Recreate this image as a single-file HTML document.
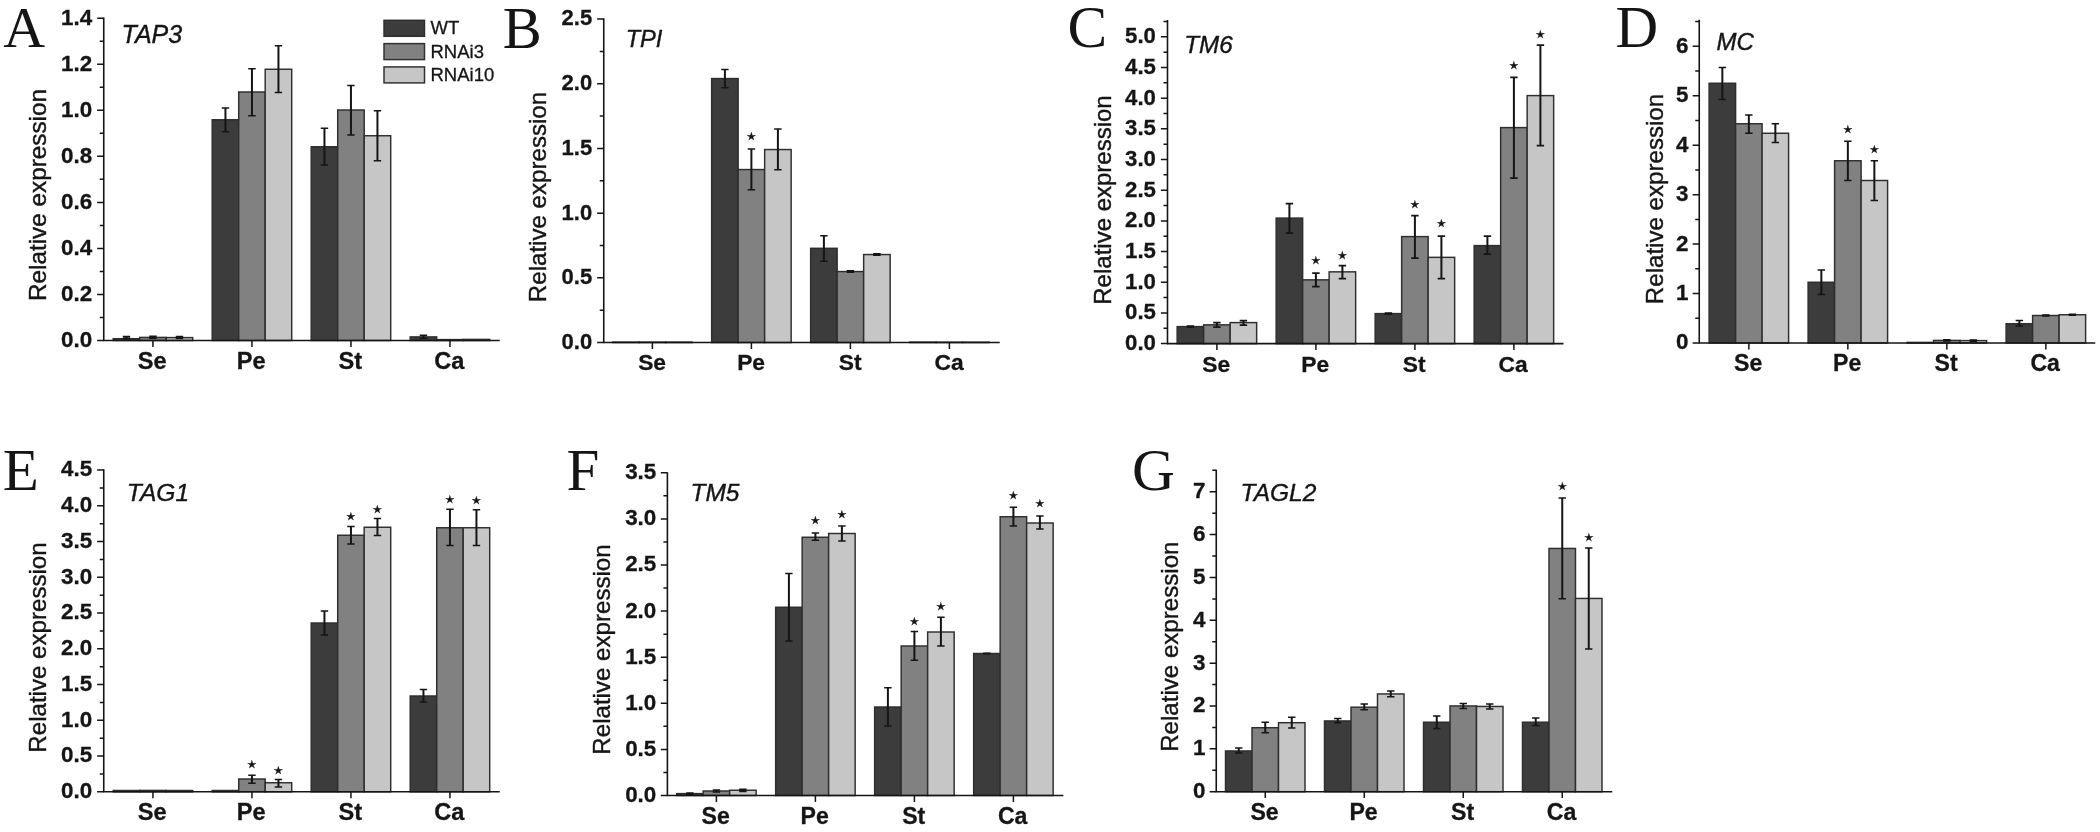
<!DOCTYPE html>
<html lang="en">
<head>
<meta charset="utf-8">
<title>Relative expression of MADS-box genes in WT, RNAi3 and RNAi10 floral organs</title>
<style>
html,body{margin:0;padding:0;background:#fff;}
body{width:2100px;height:832px;overflow:hidden;}
svg{display:block;filter:blur(0.3px);}
text{font-family:"Liberation Sans",sans-serif;fill:#151515;}
.bar{stroke:#2e2e2e;stroke-width:1.45;}
.err{stroke:#151515;stroke-width:2;fill:none;}
.cap{stroke:#151515;stroke-width:1.6;fill:none;}
.axis{stroke:#151515;stroke-width:1.6;fill:none;stroke-linejoin:miter;}
.tick{stroke:#151515;stroke-width:1.5;fill:none;}
.tl{font-weight:bold;text-anchor:end;stroke:#151515;stroke-width:0.3px;}
.cat{font-weight:bold;text-anchor:middle;stroke:#151515;stroke-width:0.3px;}
.yt{text-anchor:middle;stroke:#151515;stroke-width:0.4px;}
.gene{font-style:italic;stroke:#151515;stroke-width:0.4px;}
.pl{font-family:"Liberation Serif",serif;}
.lg{font-size:18.5px;stroke:#151515;stroke-width:0.3px;}
.star{font-family:"DejaVu Sans",sans-serif;font-size:10.8px;text-anchor:middle;stroke:#151515;stroke-width:0.3px;}
</style>
</head>
<body>
<svg width="2100" height="832" viewBox="0 0 2100 832">
<rect width="2100" height="832" fill="#ffffff"/>
<g class="panel">
<rect class="bar" x="113.2" y="338.7" width="26.5" height="1.8" fill="#3c3c3c"/>
<rect class="bar" x="139.7" y="337.4" width="26.5" height="3.1" fill="#818181"/>
<rect class="bar" x="166.2" y="337.6" width="26.5" height="2.9" fill="#c6c6c6"/>
<path class="err" d="M126.45 336.6V338.6"/>
<path class="cap" d="M122.75 336.6h7.4M122.75 338.6h7.4"/>
<path class="err" d="M152.95 336.4V338.2"/>
<path class="cap" d="M149.25 336.4h7.4M149.25 338.2h7.4"/>
<path class="err" d="M179.45 336.6V338.4"/>
<path class="cap" d="M175.75 336.6h7.4M175.75 338.4h7.4"/>
<rect class="bar" x="212.2" y="119.75" width="26.5" height="220.75" fill="#3c3c3c"/>
<rect class="bar" x="238.7" y="92" width="26.5" height="248.5" fill="#818181"/>
<rect class="bar" x="265.2" y="69.25" width="26.5" height="271.25" fill="#c6c6c6"/>
<path class="err" d="M225.45 108V131.75"/>
<path class="cap" d="M221.75 108h7.4M221.75 131.75h7.4"/>
<path class="err" d="M251.95 68.75V115.75"/>
<path class="cap" d="M248.25 68.75h7.4M248.25 115.75h7.4"/>
<path class="err" d="M278.45 45.75V92.5"/>
<path class="cap" d="M274.75 45.75h7.4M274.75 92.5h7.4"/>
<rect class="bar" x="311.2" y="146.75" width="26.5" height="193.75" fill="#3c3c3c"/>
<rect class="bar" x="337.7" y="110" width="26.5" height="230.5" fill="#818181"/>
<rect class="bar" x="364.2" y="135.75" width="26.5" height="204.75" fill="#c6c6c6"/>
<path class="err" d="M324.45 128.25V165"/>
<path class="cap" d="M320.75 128.25h7.4M320.75 165h7.4"/>
<path class="err" d="M350.95 85.5V135"/>
<path class="cap" d="M347.25 85.5h7.4M347.25 135h7.4"/>
<path class="err" d="M377.45 110.75V160.75"/>
<path class="cap" d="M373.75 110.75h7.4M373.75 160.75h7.4"/>
<rect class="bar" x="410.2" y="336.9" width="26.5" height="3.6" fill="#3c3c3c"/>
<rect class="bar" x="436.7" y="339.6" width="26.5" height="0.9" fill="#818181"/>
<rect class="bar" x="463.2" y="339.4" width="26.5" height="1.1" fill="#c6c6c6"/>
<path class="err" d="M423.45 335.4V338.2"/>
<path class="cap" d="M419.75 335.4h7.4M419.75 338.2h7.4"/>
<path class="axis" d="M103.75 17.45V340.5H499.75"/>
<path class="tick" d="M103.75 340.5h-6.6M103.75 294.46h-6.6M103.75 248.42h-6.6M103.75 202.38h-6.6M103.75 156.34h-6.6M103.75 110.3h-6.6M103.75 64.26h-6.6M103.75 18.22h-6.6M103.75 317.48h-4M103.75 271.44h-4M103.75 225.4h-4M103.75 179.36h-4M103.75 133.32h-4M103.75 87.28h-4M103.75 41.24h-4M152.95 340.5v6.4M251.95 340.5v6.4M350.95 340.5v6.4M449.95 340.5v6.4"/>
<text class="tl" x="92.15" y="346.9" font-size="22.4">0.0</text>
<text class="tl" x="92.15" y="300.86" font-size="22.4">0.2</text>
<text class="tl" x="92.15" y="254.82" font-size="22.4">0.4</text>
<text class="tl" x="92.15" y="208.78" font-size="22.4">0.6</text>
<text class="tl" x="92.15" y="162.74" font-size="22.4">0.8</text>
<text class="tl" x="92.15" y="116.7" font-size="22.4">1.0</text>
<text class="tl" x="92.15" y="70.66" font-size="22.4">1.2</text>
<text class="tl" x="92.15" y="24.62" font-size="22.4">1.4</text>
<text class="cat" x="152.25" y="368.5" font-size="23.6">Se</text>
<text class="cat" x="251.25" y="368.5" font-size="23.6">Pe</text>
<text class="cat" x="350.25" y="368.5" font-size="23.6">St</text>
<text class="cat" x="449.25" y="368.5" font-size="23.6">Ca</text>
<text class="yt" font-size="24.3" transform="translate(46 195) rotate(-90)">Relative expression</text>
<text class="gene" x="121.5" y="42.6" font-size="25">TAP3</text>
<text class="pl" x="3.2" y="47" font-size="58">A</text>
<rect class="bar" x="384" y="20.3" width="40.5" height="16" fill="#3c3c3c"/>
<text class="lg" x="430.5" y="34.2">WT</text>
<rect class="bar" x="384" y="43.6" width="40.5" height="16" fill="#818181"/>
<text class="lg" x="430.5" y="57.5">RNAi3</text>
<rect class="bar" x="384" y="66.9" width="40.5" height="16" fill="#c6c6c6"/>
<text class="lg" x="430.5" y="80.8">RNAi10</text>
</g>
<g class="panel">
<rect class="bar" x="612.65" y="342.1" width="26.5" height="0.45" fill="#3c3c3c"/>
<rect class="bar" x="639.15" y="342.1" width="26.5" height="0.45" fill="#818181"/>
<rect class="bar" x="665.65" y="342.1" width="26.5" height="0.45" fill="#c6c6c6"/>
<rect class="bar" x="711.65" y="78.55" width="26.5" height="264" fill="#3c3c3c"/>
<rect class="bar" x="738.15" y="169.55" width="26.5" height="173" fill="#818181"/>
<rect class="bar" x="764.65" y="149.55" width="26.5" height="193" fill="#c6c6c6"/>
<path class="err" d="M724.9 69.55V87.8"/>
<path class="cap" d="M721.2 69.55h7.4M721.2 87.8h7.4"/>
<path class="err" d="M751.4 149.05V189.8"/>
<path class="cap" d="M747.7 149.05h7.4M747.7 189.8h7.4"/>
<text class="star" x="751.4" y="140.3">★</text>
<path class="err" d="M777.9 129.05V169.8"/>
<path class="cap" d="M774.2 129.05h7.4M774.2 169.8h7.4"/>
<rect class="bar" x="810.65" y="248.3" width="26.5" height="94.25" fill="#3c3c3c"/>
<rect class="bar" x="837.15" y="271.55" width="26.5" height="71" fill="#818181"/>
<rect class="bar" x="863.65" y="254.55" width="26.5" height="88" fill="#c6c6c6"/>
<path class="err" d="M823.9 235.8V261.3"/>
<path class="cap" d="M820.2 235.8h7.4M820.2 261.3h7.4"/>
<path class="err" d="M850.4 270.9V272.2"/>
<path class="cap" d="M846.7 270.9h7.4M846.7 272.2h7.4"/>
<path class="err" d="M876.9 253.9V255.2"/>
<path class="cap" d="M873.2 253.9h7.4M873.2 255.2h7.4"/>
<rect class="bar" x="909.65" y="342.1" width="26.5" height="0.45" fill="#3c3c3c"/>
<rect class="bar" x="936.15" y="342.2" width="26.5" height="0.35" fill="#818181"/>
<rect class="bar" x="962.65" y="342.2" width="26.5" height="0.35" fill="#c6c6c6"/>
<path class="axis" d="M603.75 18.3V342.55H999.75"/>
<path class="tick" d="M603.75 342.55h-6.6M603.75 277.85h-6.6M603.75 213.15h-6.6M603.75 148.45h-6.6M603.75 83.75h-6.6M603.75 19.05h-6.6M603.75 310.2h-4M603.75 245.5h-4M603.75 180.8h-4M603.75 116.1h-4M603.75 51.4h-4M652.4 342.55v6.4M751.4 342.55v6.4M850.4 342.55v6.4M949.4 342.55v6.4"/>
<text class="tl" x="592.15" y="348.95" font-size="22">0.0</text>
<text class="tl" x="592.15" y="284.25" font-size="22">0.5</text>
<text class="tl" x="592.15" y="219.55" font-size="22">1.0</text>
<text class="tl" x="592.15" y="154.85" font-size="22">1.5</text>
<text class="tl" x="592.15" y="90.15" font-size="22">2.0</text>
<text class="tl" x="592.15" y="25.45" font-size="22">2.5</text>
<text class="cat" x="652.1" y="370" font-size="22.8">Se</text>
<text class="cat" x="751.1" y="370" font-size="22.8">Pe</text>
<text class="cat" x="850.1" y="370" font-size="22.8">St</text>
<text class="cat" x="949.1" y="370" font-size="22.8">Ca</text>
<text class="yt" font-size="24.1" transform="translate(546 197) rotate(-90)">Relative expression</text>
<text class="gene" x="625.7" y="46.5" font-size="23.6">TPI</text>
<text class="pl" x="502.7" y="47.5" font-size="58.5">B</text>
</g>
<g class="panel">
<rect class="bar" x="1177.15" y="326.6" width="26.5" height="17" fill="#3c3c3c"/>
<rect class="bar" x="1203.65" y="324.85" width="26.5" height="18.75" fill="#818181"/>
<rect class="bar" x="1230.15" y="322.6" width="26.5" height="21" fill="#c6c6c6"/>
<path class="err" d="M1190.4 326.1V327.1"/>
<path class="cap" d="M1186.7 326.1h7.4M1186.7 327.1h7.4"/>
<path class="err" d="M1216.9 322.6V327.1"/>
<path class="cap" d="M1213.2 322.6h7.4M1213.2 327.1h7.4"/>
<path class="err" d="M1243.4 320.6V325.1"/>
<path class="cap" d="M1239.7 320.6h7.4M1239.7 325.1h7.4"/>
<rect class="bar" x="1276.15" y="218.1" width="26.5" height="125.5" fill="#3c3c3c"/>
<rect class="bar" x="1302.65" y="279.85" width="26.5" height="63.75" fill="#818181"/>
<rect class="bar" x="1329.15" y="271.85" width="26.5" height="71.75" fill="#c6c6c6"/>
<path class="err" d="M1289.4 203.6V233.1"/>
<path class="cap" d="M1285.7 203.6h7.4M1285.7 233.1h7.4"/>
<path class="err" d="M1315.9 273.1V286.6"/>
<path class="cap" d="M1312.2 273.1h7.4M1312.2 286.6h7.4"/>
<text class="star" x="1315.9" y="264.1">★</text>
<path class="err" d="M1342.4 265.6V278.6"/>
<path class="cap" d="M1338.7 265.6h7.4M1338.7 278.6h7.4"/>
<text class="star" x="1342.4" y="259.1">★</text>
<rect class="bar" x="1375.15" y="313.6" width="26.5" height="30" fill="#3c3c3c"/>
<rect class="bar" x="1401.65" y="236.6" width="26.5" height="107" fill="#818181"/>
<rect class="bar" x="1428.15" y="257.35" width="26.5" height="86.25" fill="#c6c6c6"/>
<path class="err" d="M1388.4 313.1V314.1"/>
<path class="cap" d="M1384.7 313.1h7.4M1384.7 314.1h7.4"/>
<path class="err" d="M1414.9 215.6V258.1"/>
<path class="cap" d="M1411.2 215.6h7.4M1411.2 258.1h7.4"/>
<text class="star" x="1414.9" y="208.1">★</text>
<path class="err" d="M1441.4 236.1V278.6"/>
<path class="cap" d="M1437.7 236.1h7.4M1437.7 278.6h7.4"/>
<text class="star" x="1441.4" y="226.6">★</text>
<rect class="bar" x="1474.15" y="245.6" width="26.5" height="98" fill="#3c3c3c"/>
<rect class="bar" x="1500.65" y="127.6" width="26.5" height="216" fill="#818181"/>
<rect class="bar" x="1527.15" y="95.6" width="26.5" height="248" fill="#c6c6c6"/>
<path class="err" d="M1487.4 236.1V254.1"/>
<path class="cap" d="M1483.7 236.1h7.4M1483.7 254.1h7.4"/>
<path class="err" d="M1513.9 77.35V178.1"/>
<path class="cap" d="M1510.2 77.35h7.4M1510.2 178.1h7.4"/>
<text class="star" x="1513.9" y="69.1">★</text>
<path class="err" d="M1540.4 45.1V145.6"/>
<path class="cap" d="M1536.7 45.1h7.4M1536.7 145.6h7.4"/>
<text class="star" x="1540.4" y="38.1">★</text>
<path class="axis" d="M1167.5 19.95V343.6H1563.5"/>
<path class="tick" d="M1167.5 343.6h-6.6M1167.5 312.92h-6.6M1167.5 282.24h-6.6M1167.5 251.56h-6.6M1167.5 220.88h-6.6M1167.5 190.2h-6.6M1167.5 159.52h-6.6M1167.5 128.84h-6.6M1167.5 98.16h-6.6M1167.5 67.48h-6.6M1167.5 36.8h-6.6M1167.5 328.26h-4M1167.5 297.58h-4M1167.5 266.9h-4M1167.5 236.22h-4M1167.5 205.54h-4M1167.5 174.86h-4M1167.5 144.18h-4M1167.5 113.5h-4M1167.5 82.82h-4M1167.5 52.14h-4M1167.5 21.46h-4M1216.9 343.6v6.4M1315.9 343.6v6.4M1414.9 343.6v6.4M1513.9 343.6v6.4"/>
<text class="tl" x="1155.9" y="350" font-size="22.2">0.0</text>
<text class="tl" x="1155.9" y="319.32" font-size="22.2">0.5</text>
<text class="tl" x="1155.9" y="288.64" font-size="22.2">1.0</text>
<text class="tl" x="1155.9" y="257.96" font-size="22.2">1.5</text>
<text class="tl" x="1155.9" y="227.28" font-size="22.2">2.0</text>
<text class="tl" x="1155.9" y="196.6" font-size="22.2">2.5</text>
<text class="tl" x="1155.9" y="165.92" font-size="22.2">3.0</text>
<text class="tl" x="1155.9" y="135.24" font-size="22.2">3.5</text>
<text class="tl" x="1155.9" y="104.56" font-size="22.2">4.0</text>
<text class="tl" x="1155.9" y="73.88" font-size="22.2">4.5</text>
<text class="tl" x="1155.9" y="43.2" font-size="22.2">5.0</text>
<text class="cat" x="1216.2" y="371.5" font-size="22.8">Se</text>
<text class="cat" x="1315.2" y="371.5" font-size="22.8">Pe</text>
<text class="cat" x="1414.2" y="371.5" font-size="22.8">St</text>
<text class="cat" x="1513.2" y="371.5" font-size="22.8">Ca</text>
<text class="yt" font-size="24" transform="translate(1110.5 200) rotate(-90)">Relative expression</text>
<text class="gene" x="1184.3" y="53" font-size="24.2">TM6</text>
<text class="pl" x="1067.5" y="47" font-size="59.5">C</text>
</g>
<g class="panel">
<rect class="bar" x="1709.1" y="83.25" width="26.5" height="259.75" fill="#3c3c3c"/>
<rect class="bar" x="1735.6" y="123.75" width="26.5" height="219.25" fill="#818181"/>
<rect class="bar" x="1762.1" y="133.25" width="26.5" height="209.75" fill="#c6c6c6"/>
<path class="err" d="M1722.35 67.5V99.5"/>
<path class="cap" d="M1718.65 67.5h7.4M1718.65 99.5h7.4"/>
<path class="err" d="M1748.85 115V133.25"/>
<path class="cap" d="M1745.15 115h7.4M1745.15 133.25h7.4"/>
<path class="err" d="M1775.35 123.75V142.5"/>
<path class="cap" d="M1771.65 123.75h7.4M1771.65 142.5h7.4"/>
<rect class="bar" x="1808.1" y="282.25" width="26.5" height="60.75" fill="#3c3c3c"/>
<rect class="bar" x="1834.6" y="160.75" width="26.5" height="182.25" fill="#818181"/>
<rect class="bar" x="1861.1" y="180.5" width="26.5" height="162.5" fill="#c6c6c6"/>
<path class="err" d="M1821.35 270V294.5"/>
<path class="cap" d="M1817.65 270h7.4M1817.65 294.5h7.4"/>
<path class="err" d="M1847.85 141.25V180.5"/>
<path class="cap" d="M1844.15 141.25h7.4M1844.15 180.5h7.4"/>
<text class="star" x="1847.85" y="132.5">★</text>
<path class="err" d="M1874.35 160.75V200.5"/>
<path class="cap" d="M1870.65 160.75h7.4M1870.65 200.5h7.4"/>
<text class="star" x="1874.35" y="152.5">★</text>
<rect class="bar" x="1907.1" y="342.4" width="26.5" height="0.6" fill="#3c3c3c"/>
<rect class="bar" x="1933.6" y="340.4" width="26.5" height="2.6" fill="#818181"/>
<rect class="bar" x="1960.1" y="340.6" width="26.5" height="2.4" fill="#c6c6c6"/>
<path class="err" d="M1946.85 339.9V340.9"/>
<path class="cap" d="M1943.15 339.9h7.4M1943.15 340.9h7.4"/>
<path class="err" d="M1973.35 340.1V341.1"/>
<path class="cap" d="M1969.65 340.1h7.4M1969.65 341.1h7.4"/>
<rect class="bar" x="2006.1" y="323.75" width="26.5" height="19.25" fill="#3c3c3c"/>
<rect class="bar" x="2032.6" y="315.5" width="26.5" height="27.5" fill="#818181"/>
<rect class="bar" x="2059.1" y="314.75" width="26.5" height="28.25" fill="#c6c6c6"/>
<path class="err" d="M2019.35 320.5V326"/>
<path class="cap" d="M2015.65 320.5h7.4M2015.65 326h7.4"/>
<path class="err" d="M2045.85 315V316"/>
<path class="cap" d="M2042.15 315h7.4M2042.15 316h7.4"/>
<path class="err" d="M2072.35 314.25V315.25"/>
<path class="cap" d="M2068.65 314.25h7.4M2068.65 315.25h7.4"/>
<path class="axis" d="M1699.25 19.75V343H2095.25"/>
<path class="tick" d="M1699.25 343h-6.6M1699.25 293.55h-6.6M1699.25 244.1h-6.6M1699.25 194.65h-6.6M1699.25 145.2h-6.6M1699.25 95.75h-6.6M1699.25 46.3h-6.6M1699.25 318.27h-4M1699.25 268.82h-4M1699.25 219.38h-4M1699.25 169.92h-4M1699.25 120.47h-4M1699.25 71.02h-4M1699.25 21.57h-4M1748.85 343v6.4M1847.85 343v6.4M1946.85 343v6.4M2045.85 343v6.4"/>
<text class="tl" x="1688.45" y="349.4" font-size="22.4">0</text>
<text class="tl" x="1688.45" y="299.95" font-size="22.4">1</text>
<text class="tl" x="1688.45" y="250.5" font-size="22.4">2</text>
<text class="tl" x="1688.45" y="201.05" font-size="22.4">3</text>
<text class="tl" x="1688.45" y="151.6" font-size="22.4">4</text>
<text class="tl" x="1688.45" y="102.15" font-size="22.4">5</text>
<text class="tl" x="1688.45" y="52.7" font-size="22.4">6</text>
<text class="cat" x="1748.15" y="371" font-size="23.1">Se</text>
<text class="cat" x="1847.15" y="371" font-size="23.1">Pe</text>
<text class="cat" x="1946.15" y="371" font-size="23.1">St</text>
<text class="cat" x="2045.15" y="371" font-size="23.1">Ca</text>
<text class="yt" font-size="24.1" transform="translate(1662.5 199) rotate(-90)">Relative expression</text>
<text class="gene" x="1716.5" y="50" font-size="24">MC</text>
<text class="pl" x="1615.5" y="47.3" font-size="59">D</text>
</g>
<g class="panel">
<rect class="bar" x="113.2" y="790.5" width="26.5" height="1.3" fill="#3c3c3c"/>
<rect class="bar" x="139.7" y="790.4" width="26.5" height="1.4" fill="#818181"/>
<rect class="bar" x="166.2" y="790.5" width="26.5" height="1.3" fill="#c6c6c6"/>
<rect class="bar" x="212.2" y="790.5" width="26.5" height="1.3" fill="#3c3c3c"/>
<rect class="bar" x="238.7" y="779" width="26.5" height="12.8" fill="#818181"/>
<rect class="bar" x="265.2" y="782.75" width="26.5" height="9.05" fill="#c6c6c6"/>
<path class="err" d="M251.95 775.25V783.25"/>
<path class="cap" d="M248.25 775.25h7.4M248.25 783.25h7.4"/>
<text class="star" x="251.95" y="768.25">★</text>
<path class="err" d="M278.45 779.5V787"/>
<path class="cap" d="M274.75 779.5h7.4M274.75 787h7.4"/>
<text class="star" x="278.45" y="774">★</text>
<rect class="bar" x="311.2" y="623" width="26.5" height="168.8" fill="#3c3c3c"/>
<rect class="bar" x="337.7" y="535.25" width="26.5" height="256.55" fill="#818181"/>
<rect class="bar" x="364.2" y="527.25" width="26.5" height="264.55" fill="#c6c6c6"/>
<path class="err" d="M324.45 611V635"/>
<path class="cap" d="M320.75 611h7.4M320.75 635h7.4"/>
<path class="err" d="M350.95 526.5V544"/>
<path class="cap" d="M347.25 526.5h7.4M347.25 544h7.4"/>
<text class="star" x="350.95" y="520.25">★</text>
<path class="err" d="M377.45 518.5V535.5"/>
<path class="cap" d="M373.75 518.5h7.4M373.75 535.5h7.4"/>
<text class="star" x="377.45" y="512.75">★</text>
<rect class="bar" x="410.2" y="696" width="26.5" height="95.8" fill="#3c3c3c"/>
<rect class="bar" x="436.7" y="527.75" width="26.5" height="264.05" fill="#818181"/>
<rect class="bar" x="463.2" y="527.75" width="26.5" height="264.05" fill="#c6c6c6"/>
<path class="err" d="M423.45 689.5V702"/>
<path class="cap" d="M419.75 689.5h7.4M419.75 702h7.4"/>
<path class="err" d="M449.95 509.25V545.5"/>
<path class="cap" d="M446.25 509.25h7.4M446.25 545.5h7.4"/>
<text class="star" x="449.95" y="502.75">★</text>
<path class="err" d="M476.45 509.75V545.5"/>
<path class="cap" d="M472.75 509.75h7.4M472.75 545.5h7.4"/>
<text class="star" x="476.45" y="504">★</text>
<path class="axis" d="M103.75 469.25V791.8H499.75"/>
<path class="tick" d="M103.75 791.8h-6.6M103.75 756.05h-6.6M103.75 720.3h-6.6M103.75 684.55h-6.6M103.75 648.8h-6.6M103.75 613.05h-6.6M103.75 577.3h-6.6M103.75 541.55h-6.6M103.75 505.8h-6.6M103.75 470.05h-6.6M103.75 773.92h-4M103.75 738.17h-4M103.75 702.42h-4M103.75 666.67h-4M103.75 630.92h-4M103.75 595.17h-4M103.75 559.42h-4M103.75 523.67h-4M103.75 487.92h-4M152.95 791.8v6.4M251.95 791.8v6.4M350.95 791.8v6.4M449.95 791.8v6.4"/>
<text class="tl" x="92.15" y="798.2" font-size="22.4">0.0</text>
<text class="tl" x="92.15" y="762.45" font-size="22.4">0.5</text>
<text class="tl" x="92.15" y="726.7" font-size="22.4">1.0</text>
<text class="tl" x="92.15" y="690.95" font-size="22.4">1.5</text>
<text class="tl" x="92.15" y="655.2" font-size="22.4">2.0</text>
<text class="tl" x="92.15" y="619.45" font-size="22.4">2.5</text>
<text class="tl" x="92.15" y="583.7" font-size="22.4">3.0</text>
<text class="tl" x="92.15" y="547.95" font-size="22.4">3.5</text>
<text class="tl" x="92.15" y="512.2" font-size="22.4">4.0</text>
<text class="tl" x="92.15" y="476.45" font-size="22.4">4.5</text>
<text class="cat" x="152.25" y="819.5" font-size="23.6">Se</text>
<text class="cat" x="251.25" y="819.5" font-size="23.6">Pe</text>
<text class="cat" x="350.25" y="819.5" font-size="23.6">St</text>
<text class="cat" x="449.25" y="819.5" font-size="23.6">Ca</text>
<text class="yt" font-size="24.1" transform="translate(46 647.5) rotate(-90)">Relative expression</text>
<text class="gene" x="126.75" y="501" font-size="24.6">TAG1</text>
<text class="pl" x="2.7" y="490" font-size="59">E</text>
</g>
<g class="panel">
<rect class="bar" x="676.65" y="793.6" width="26.5" height="1.9" fill="#3c3c3c"/>
<rect class="bar" x="703.15" y="791" width="26.5" height="4.5" fill="#818181"/>
<rect class="bar" x="729.65" y="790.25" width="26.5" height="5.25" fill="#c6c6c6"/>
<path class="err" d="M689.9 793.1V794.1"/>
<path class="cap" d="M686.2 793.1h7.4M686.2 794.1h7.4"/>
<path class="err" d="M716.4 790V792"/>
<path class="cap" d="M712.7 790h7.4M712.7 792h7.4"/>
<path class="err" d="M742.9 789.4V791.4"/>
<path class="cap" d="M739.2 789.4h7.4M739.2 791.4h7.4"/>
<rect class="bar" x="775.65" y="607.25" width="26.5" height="188.25" fill="#3c3c3c"/>
<rect class="bar" x="802.15" y="537.25" width="26.5" height="258.25" fill="#818181"/>
<rect class="bar" x="828.65" y="533.5" width="26.5" height="262" fill="#c6c6c6"/>
<path class="err" d="M788.9 573.5V641"/>
<path class="cap" d="M785.2 573.5h7.4M785.2 641h7.4"/>
<path class="err" d="M815.4 533V540.25"/>
<path class="cap" d="M811.7 533h7.4M811.7 540.25h7.4"/>
<text class="star" x="815.4" y="524">★</text>
<path class="err" d="M841.9 526V541"/>
<path class="cap" d="M838.2 526h7.4M838.2 541h7.4"/>
<text class="star" x="841.9" y="517.75">★</text>
<rect class="bar" x="874.65" y="707" width="26.5" height="88.5" fill="#3c3c3c"/>
<rect class="bar" x="901.15" y="646" width="26.5" height="149.5" fill="#818181"/>
<rect class="bar" x="927.65" y="632" width="26.5" height="163.5" fill="#c6c6c6"/>
<path class="err" d="M887.9 687.75V726"/>
<path class="cap" d="M884.2 687.75h7.4M884.2 726h7.4"/>
<path class="err" d="M914.4 631.5V660.25"/>
<path class="cap" d="M910.7 631.5h7.4M910.7 660.25h7.4"/>
<text class="star" x="914.4" y="625.25">★</text>
<path class="err" d="M940.9 617.25V646"/>
<path class="cap" d="M937.2 617.25h7.4M937.2 646h7.4"/>
<text class="star" x="940.9" y="610.25">★</text>
<rect class="bar" x="973.65" y="653.5" width="26.5" height="142" fill="#3c3c3c"/>
<rect class="bar" x="1000.15" y="516.75" width="26.5" height="278.75" fill="#818181"/>
<rect class="bar" x="1026.65" y="523" width="26.5" height="272.5" fill="#c6c6c6"/>
<path class="err" d="M986.9 653.25V653.75"/>
<path class="cap" d="M983.2 653.25h7.4M983.2 653.75h7.4"/>
<path class="err" d="M1013.4 507.25V526"/>
<path class="cap" d="M1009.7 507.25h7.4M1009.7 526h7.4"/>
<text class="star" x="1013.4" y="499">★</text>
<path class="err" d="M1039.9 516V529"/>
<path class="cap" d="M1036.2 516h7.4M1036.2 529h7.4"/>
<text class="star" x="1039.9" y="507.25">★</text>
<path class="axis" d="M667.4 472.15V795.5H1063.4"/>
<path class="tick" d="M667.4 795.5h-6.6M667.4 749.4h-6.6M667.4 703.3h-6.6M667.4 657.2h-6.6M667.4 611.1h-6.6M667.4 565h-6.6M667.4 518.9h-6.6M667.4 472.8h-6.6M667.4 772.45h-4M667.4 726.35h-4M667.4 680.25h-4M667.4 634.15h-4M667.4 588.05h-4M667.4 541.95h-4M667.4 495.85h-4M716.4 795.5v6.4M815.4 795.5v6.4M914.4 795.5v6.4M1013.4 795.5v6.4"/>
<text class="tl" x="656.3" y="801.9" font-size="22.4">0.0</text>
<text class="tl" x="656.3" y="755.8" font-size="22.4">0.5</text>
<text class="tl" x="656.3" y="709.7" font-size="22.4">1.0</text>
<text class="tl" x="656.3" y="663.6" font-size="22.4">1.5</text>
<text class="tl" x="656.3" y="617.5" font-size="22.4">2.0</text>
<text class="tl" x="656.3" y="571.4" font-size="22.4">2.5</text>
<text class="tl" x="656.3" y="525.3" font-size="22.4">3.0</text>
<text class="tl" x="656.3" y="479.2" font-size="22.4">3.5</text>
<text class="cat" x="715.7" y="823.75" font-size="23.1">Se</text>
<text class="cat" x="814.7" y="823.75" font-size="23.1">Pe</text>
<text class="cat" x="913.7" y="823.75" font-size="23.1">St</text>
<text class="cat" x="1012.7" y="823.75" font-size="23.1">Ca</text>
<text class="yt" font-size="24.1" transform="translate(610 649.5) rotate(-90)">Relative expression</text>
<text class="gene" x="690.5" y="501" font-size="24.5">TM5</text>
<text class="pl" x="566.5" y="490" font-size="59">F</text>
</g>
<g class="panel">
<rect class="bar" x="1225.5" y="750.95" width="26.5" height="40.75" fill="#3c3c3c"/>
<rect class="bar" x="1252" y="727.7" width="26.5" height="64" fill="#818181"/>
<rect class="bar" x="1278.5" y="722.7" width="26.5" height="69" fill="#c6c6c6"/>
<path class="err" d="M1238.75 747.95V752.95"/>
<path class="cap" d="M1235.05 747.95h7.4M1235.05 752.95h7.4"/>
<path class="err" d="M1265.25 722.2V732.7"/>
<path class="cap" d="M1261.55 722.2h7.4M1261.55 732.7h7.4"/>
<path class="err" d="M1291.75 717.2V727.95"/>
<path class="cap" d="M1288.05 717.2h7.4M1288.05 727.95h7.4"/>
<rect class="bar" x="1324.5" y="720.95" width="26.5" height="70.75" fill="#3c3c3c"/>
<rect class="bar" x="1351" y="707.2" width="26.5" height="84.5" fill="#818181"/>
<rect class="bar" x="1377.5" y="693.95" width="26.5" height="97.75" fill="#c6c6c6"/>
<path class="err" d="M1337.75 718.45V722.7"/>
<path class="cap" d="M1334.05 718.45h7.4M1334.05 722.7h7.4"/>
<path class="err" d="M1364.25 703.95V709.7"/>
<path class="cap" d="M1360.55 703.95h7.4M1360.55 709.7h7.4"/>
<path class="err" d="M1390.75 690.95V696.7"/>
<path class="cap" d="M1387.05 690.95h7.4M1387.05 696.7h7.4"/>
<rect class="bar" x="1423.5" y="722.2" width="26.5" height="69.5" fill="#3c3c3c"/>
<rect class="bar" x="1450" y="705.95" width="26.5" height="85.75" fill="#818181"/>
<rect class="bar" x="1476.5" y="706.45" width="26.5" height="85.25" fill="#c6c6c6"/>
<path class="err" d="M1436.75 715.95V728.45"/>
<path class="cap" d="M1433.05 715.95h7.4M1433.05 728.45h7.4"/>
<path class="err" d="M1463.25 703.45V708.45"/>
<path class="cap" d="M1459.55 703.45h7.4M1459.55 708.45h7.4"/>
<path class="err" d="M1489.75 703.95V708.95"/>
<path class="cap" d="M1486.05 703.95h7.4M1486.05 708.95h7.4"/>
<rect class="bar" x="1522.5" y="722.2" width="26.5" height="69.5" fill="#3c3c3c"/>
<rect class="bar" x="1549" y="548.45" width="26.5" height="243.25" fill="#818181"/>
<rect class="bar" x="1575.5" y="598.45" width="26.5" height="193.25" fill="#c6c6c6"/>
<path class="err" d="M1535.75 717.95V725.45"/>
<path class="cap" d="M1532.05 717.95h7.4M1532.05 725.45h7.4"/>
<path class="err" d="M1562.25 497.95V598.7"/>
<path class="cap" d="M1558.55 497.95h7.4M1558.55 598.7h7.4"/>
<text class="star" x="1562.25" y="490.45">★</text>
<path class="err" d="M1588.75 547.95V648.95"/>
<path class="cap" d="M1585.05 547.95h7.4M1585.05 648.95h7.4"/>
<text class="star" x="1588.75" y="541.45">★</text>
<path class="axis" d="M1216.25 469.7V791.7H1612.25"/>
<path class="tick" d="M1216.25 791.7h-6.6M1216.25 748.85h-6.6M1216.25 706h-6.6M1216.25 663.15h-6.6M1216.25 620.3h-6.6M1216.25 577.45h-6.6M1216.25 534.6h-6.6M1216.25 491.75h-6.6M1216.25 770.28h-4M1216.25 727.43h-4M1216.25 684.58h-4M1216.25 641.73h-4M1216.25 598.88h-4M1216.25 556.03h-4M1216.25 513.17h-4M1216.25 470.32h-4M1265.25 791.7v6.4M1364.25 791.7v6.4M1463.25 791.7v6.4M1562.25 791.7v6.4"/>
<text class="tl" x="1205.45" y="798.1" font-size="22.4">0</text>
<text class="tl" x="1205.45" y="755.25" font-size="22.4">1</text>
<text class="tl" x="1205.45" y="712.4" font-size="22.4">2</text>
<text class="tl" x="1205.45" y="669.55" font-size="22.4">3</text>
<text class="tl" x="1205.45" y="626.7" font-size="22.4">4</text>
<text class="tl" x="1205.45" y="583.85" font-size="22.4">5</text>
<text class="tl" x="1205.45" y="541" font-size="22.4">6</text>
<text class="tl" x="1205.45" y="498.15" font-size="22.4">7</text>
<text class="cat" x="1264.55" y="819.5" font-size="23.1">Se</text>
<text class="cat" x="1363.55" y="819.5" font-size="23.1">Pe</text>
<text class="cat" x="1462.55" y="819.5" font-size="23.1">St</text>
<text class="cat" x="1561.55" y="819.5" font-size="23.1">Ca</text>
<text class="yt" font-size="24.1" transform="translate(1178 646.7) rotate(-90)">Relative expression</text>
<text class="gene" x="1240.5" y="500.5" font-size="24.5">TAGL2</text>
<text class="pl" x="1132" y="489.6" font-size="59.5">G</text>
</g>
</svg>
</body>
</html>
